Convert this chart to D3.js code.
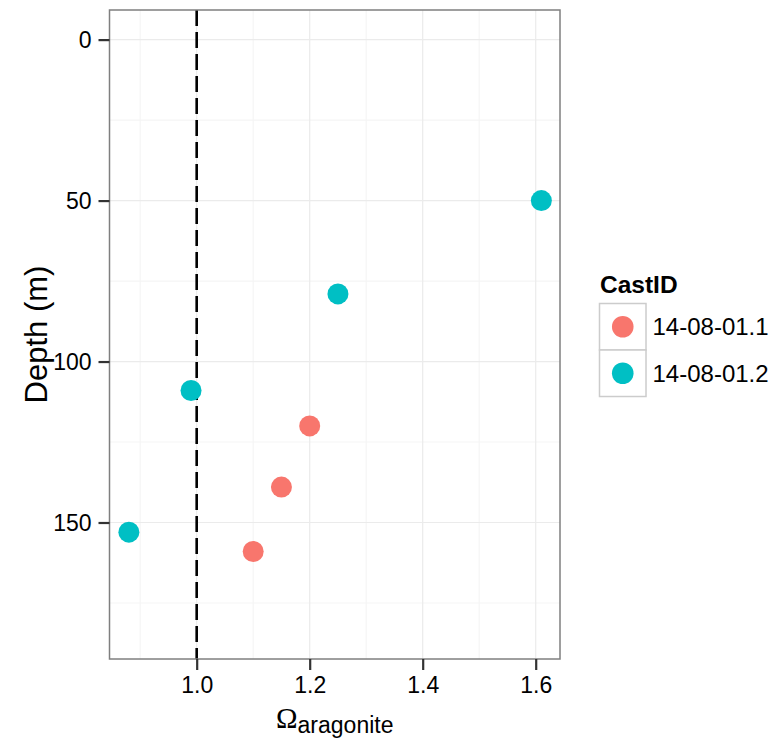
<!DOCTYPE html>
<html>
<head>
<meta charset="utf-8">
<script src="https://cdn.jsdelivr.net/npm/d3@7"></script>
<style>
  body { margin: 0; background: #fff; }
  svg { display: block; font-family: "Liberation Sans", Arial, sans-serif; }
</style>
</head>
<body>
<svg id="chart" width="775" height="742"></svg>
<script>
const castIds = ["14-08-01.1", "14-08-01.2"];
const colors = ["#F8766D", "#00BFC4"];
const omegaCast1 = [1.20, 1.15, 1.10];
const depthCast1 = [120, 139, 159];
const omegaCast2 = [1.61, 1.25, 0.99, 0.88];
const depthCast2 = [50, 79, 109, 153];
const xTicks = [1.0, 1.2, 1.4, 1.6];
const xMinor = [0.9, 1.1, 1.3, 1.5];
const yTicks = [0, 50, 100, 150];
const yMinor = [25, 75, 125, 175];
const refLine = 1.0;

const points = [];
omegaCast1.forEach((v, i) => points.push({omega: v, depth: depthCast1[i], cast: castIds[0]}));
omegaCast2.forEach((v, i) => points.push({omega: v, depth: depthCast2[i], cast: castIds[1]}));

const svg = d3.select("#chart");
const L = 109.5, R = 560, T = 10, B = 659;

const x = d3.scaleLinear().domain([0.8457, 1.643]).range([L, R]);
const y = d3.scaleLinear().domain([-9.2, 192.4]).range([T, B]);
const color = d3.scaleOrdinal().domain(castIds).range(colors);

// panel background
svg.append("rect").attr("x", L).attr("y", T).attr("width", R - L).attr("height", B - T).attr("fill", "#fff");

// minor grid
svg.append("g").selectAll("line").data(xMinor).join("line")
  .attr("x1", d => x(d)).attr("x2", d => x(d)).attr("y1", T).attr("y2", B)
  .attr("stroke", "#F5F5F5").attr("stroke-width", 1.2);
svg.append("g").selectAll("line").data(yMinor).join("line")
  .attr("y1", d => y(d)).attr("y2", d => y(d)).attr("x1", L).attr("x2", R)
  .attr("stroke", "#F5F5F5").attr("stroke-width", 1.2);
// major grid
svg.append("g").selectAll("line").data(xTicks).join("line")
  .attr("x1", d => x(d)).attr("x2", d => x(d)).attr("y1", T).attr("y2", B)
  .attr("stroke", "#EBEBEB").attr("stroke-width", 1.2);
svg.append("g").selectAll("line").data(yTicks).join("line")
  .attr("y1", d => y(d)).attr("y2", d => y(d)).attr("x1", L).attr("x2", R)
  .attr("stroke", "#EBEBEB").attr("stroke-width", 1.2);

// reference dashed line
svg.append("line")
  .attr("x1", x(refLine)).attr("x2", x(refLine)).attr("y1", T).attr("y2", B)
  .attr("stroke", "#000").attr("stroke-width", 2.6).attr("stroke-dasharray", "16,6");

// points
svg.append("g").selectAll("circle").data(points).join("circle")
  .attr("cx", d => x(d.omega)).attr("cy", d => y(d.depth)).attr("r", 10.5)
  .attr("fill", d => color(d.cast));

// panel border
svg.append("rect").attr("x", L).attr("y", T).attr("width", R - L).attr("height", B - T)
  .attr("fill", "none").attr("stroke", "#7F7F7F").attr("stroke-width", 1.5);

// axes
const xAxis = d3.axisBottom(x).tickValues(xTicks).tickFormat(d3.format(".1f")).tickSize(11).tickPadding(6);
const gx = svg.append("g").attr("transform", `translate(0,${B})`).call(xAxis);
gx.select(".domain").remove();
gx.selectAll(".tick line").attr("stroke", "#333").attr("stroke-width", 2.2);
gx.selectAll(".tick text").attr("font-size", 23).attr("fill", "#000")
  .attr("font-family", "Liberation Sans, Arial, sans-serif").attr("dy", "0.72em");

const yAxis = d3.axisLeft(y).tickValues(yTicks).tickFormat(d3.format("d")).tickSize(11).tickPadding(7);
const gy = svg.append("g").attr("transform", `translate(${L},0)`).call(yAxis);
gy.select(".domain").remove();
gy.selectAll(".tick line").attr("stroke", "#333").attr("stroke-width", 2.2);
gy.selectAll(".tick text").attr("font-size", 23).attr("fill", "#000")
  .attr("font-family", "Liberation Sans, Arial, sans-serif").attr("dy", "0.35em");

// axis titles
svg.append("text")
  .attr("transform", `translate(47,${(T + B) / 2}) rotate(-90)`)
  .attr("text-anchor", "middle").attr("font-size", 31).attr("fill", "#000")
  .text("Depth (m)");

const xt = svg.append("text").attr("x", (L + R) / 2).attr("y", 728)
  .attr("text-anchor", "middle").attr("fill", "#000");
xt.append("tspan").attr("font-family", "Liberation Serif, Times New Roman, serif").attr("font-size", 29).text("Ω");
xt.append("tspan").attr("font-size", 23).attr("dy", 5).text("aragonite");

// legend
const lg = svg.append("g");
lg.append("text").attr("x", 600).attr("y", 293).attr("font-size", 24.5).attr("font-weight", "bold")
  .attr("fill", "#000").text("CastID");
const keys = lg.selectAll("g.key").data(castIds).join("g").attr("class", "key")
  .attr("transform", (d, i) => `translate(599.5,${303.5 + i * 46.5})`);
keys.append("rect").attr("width", 46.5).attr("height", 46.5)
  .attr("fill", "#fff").attr("stroke", "#CCCCCC").attr("stroke-width", 1.5);
keys.append("circle").attr("cx", 23.25).attr("cy", 23.25).attr("r", 10.8).attr("fill", d => color(d));
keys.append("text").attr("x", 53).attr("y", 23.25).attr("dy", "0.36em").attr("font-size", 24)
  .attr("fill", "#000").text(d => d);
</script>
</body>
</html>
